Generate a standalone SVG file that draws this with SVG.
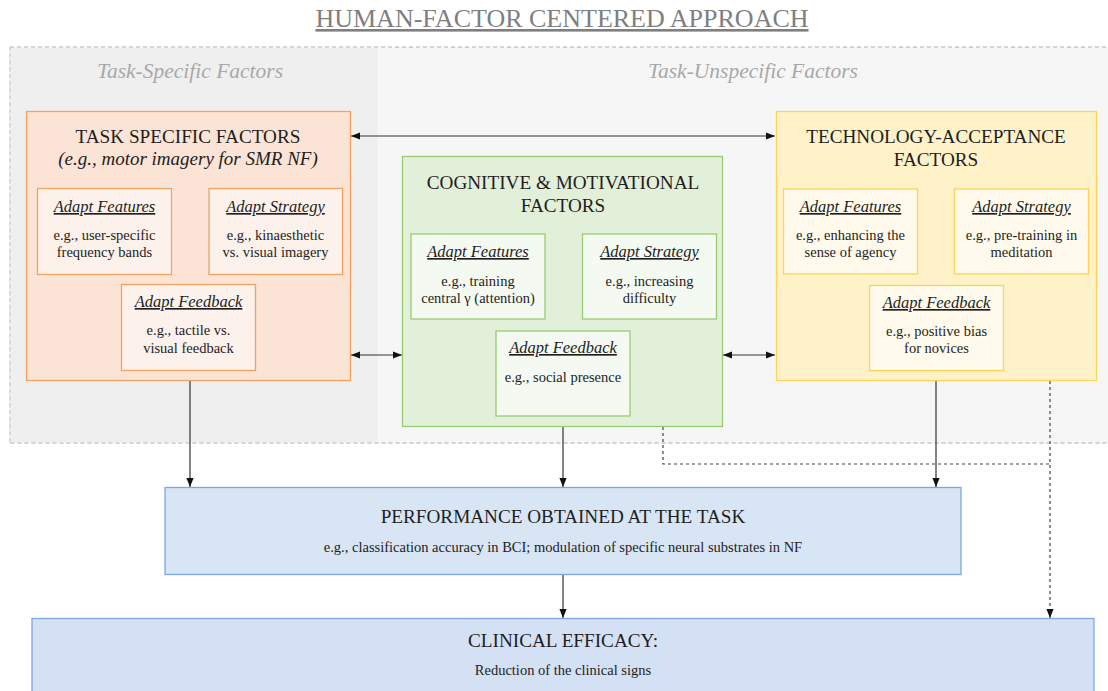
<svg xmlns="http://www.w3.org/2000/svg" width="1108" height="691" viewBox="0 0 1108 691">
<style>
text{font-family:"Liberation Serif","Times New Roman",serif;text-anchor:middle;fill:#1e1e1e}
.ttl{font-size:26px;fill:#7f7f7f;text-decoration:underline}
.reg{font-size:21.5px;font-style:italic;fill:#a8a8a8}
.hd{font-size:19.2px}
.hdi{font-size:19px;font-style:italic}
.st{font-size:16.5px;font-style:italic;text-decoration:underline}
.bd{font-size:14.5px}
.pb{font-size:14.5px}
.or{fill:#fbe4d5;stroke:#f4a261;stroke-width:1.3}
.ors{fill:#fcf1eb;stroke:#f4a261;stroke-width:1.3}
.gr{fill:#e2efd9;stroke:#97cc75;stroke-width:1.3}
.grs{fill:#f4f9f1;stroke:#97cc75;stroke-width:1.3}
.ye{fill:#fff1c8;stroke:#ffd45a;stroke-width:1.3}
.yes{fill:#fffaeb;stroke:#ffd45a;stroke-width:1.3}
.bl{fill:#d8e5f5;stroke:#7ea6e0;stroke-width:1.3}
.line{fill:none;stroke:#333;stroke-width:1.2}
.dash{fill:none;stroke:#444;stroke-width:1.2;stroke-dasharray:3,3}
</style>
<defs>
<marker id="ah" markerUnits="userSpaceOnUse" markerWidth="9" markerHeight="9" viewBox="0 0 10 10" refX="10" refY="5" orient="auto-start-reverse">
<path d="M0,1 L10,5 L0,9 z" fill="#111"/>
</marker>
</defs>
<rect width="1108" height="691" fill="#fff"/>
<g id="title"><text class="ttl" x="562" y="27">HUMAN-FACTOR CENTERED APPROACH</text></g>
<g id="regions">
<rect x="10" y="47" width="1110" height="396" fill="#f6f6f6" stroke="#c8c8c8" stroke-dasharray="4,3"/>
<rect x="10.5" y="47.5" width="367" height="395" fill="#efefef" stroke="none"/>
<path d="M10,47 V443" stroke="#c8c8c8" stroke-dasharray="4,3" fill="none"/>
<path d="M10,47 H1108 M10,443 H1108" stroke="#c8c8c8" stroke-dasharray="4,3" fill="none"/>
<text class="reg" x="190" y="78">Task-Specific Factors</text>
<text class="reg" x="753" y="78">Task-Unspecific Factors</text>
</g>
<g id="connectors">
<path class="line" d="M351,136 H775" marker-start="url(#ah)" marker-end="url(#ah)"/>
<path class="line" d="M351,355 H402" marker-start="url(#ah)" marker-end="url(#ah)"/>
<path class="line" d="M723,355 H775" marker-start="url(#ah)" marker-end="url(#ah)"/>
<path class="line" d="M190,381 V487" marker-end="url(#ah)"/>
<path class="line" d="M563,427 V487" marker-end="url(#ah)"/>
<path class="line" d="M936,381 V487" marker-end="url(#ah)"/>
<path class="dash" d="M663,427 V464 H1050"/>
<path class="dash" d="M1050,381 V618" marker-end="url(#ah)"/>
<path class="line" d="M563,575 V618" marker-end="url(#ah)"/>
</g>
<g id="task-specific">
<rect class="or" x="26.5" y="111.5" width="324" height="269"/>
<text class="hd" x="188" y="143">TASK SPECIFIC FACTORS</text>
<text class="hdi" x="188" y="165">(e.g., motor imagery for SMR NF)</text>
</g>
<g id="ts-features">
<rect class="ors" x="37.5" y="188.5" width="134" height="86"/>
<text class="st" x="104.5" y="212">Adapt Features</text>
<text class="bd" x="104.5" y="240">e.g., user-specific</text>
<text class="bd" x="104.5" y="257">frequency bands</text>
</g>
<g id="ts-strategy">
<rect class="ors" x="209" y="188.5" width="133.5" height="86"/>
<text class="st" x="275.5" y="212">Adapt Strategy</text>
<text class="bd" x="275.5" y="240">e.g., kinaesthetic</text>
<text class="bd" x="275.5" y="257">vs. visual imagery</text>
</g>
<g id="ts-feedback">
<rect class="ors" x="121.5" y="284.5" width="134" height="86"/>
<text class="st" x="188.5" y="307">Adapt Feedback</text>
<text class="bd" x="188.5" y="335">e.g., tactile vs.</text>
<text class="bd" x="188.5" y="353">visual feedback</text>
</g>
<g id="cognitive">
<rect class="gr" x="402.5" y="156.5" width="320" height="270"/>
<text class="hd" x="563" y="189">COGNITIVE &amp; MOTIVATIONAL</text>
<text class="hd" x="563" y="212">FACTORS</text>
</g>
<g id="cm-features">
<rect class="grs" x="411" y="234" width="134" height="85"/>
<text class="st" x="478" y="257">Adapt Features</text>
<text class="bd" x="478" y="286">e.g., training</text>
<text class="bd" x="478" y="303">central γ (attention)</text>
</g>
<g id="cm-strategy">
<rect class="grs" x="582.5" y="234" width="134" height="85"/>
<text class="st" x="649.5" y="257">Adapt Strategy</text>
<text class="bd" x="649.5" y="286">e.g., increasing</text>
<text class="bd" x="649.5" y="303">difficulty</text>
</g>
<g id="cm-feedback">
<rect class="grs" x="496" y="331" width="134" height="85"/>
<text class="st" x="563" y="353">Adapt Feedback</text>
<text class="bd" x="563" y="382">e.g., social presence</text>
</g>
<g id="technology">
<rect class="ye" x="776.5" y="111.5" width="320" height="269"/>
<text class="hd" x="936" y="143">TECHNOLOGY-ACCEPTANCE</text>
<text class="hd" x="936" y="166">FACTORS</text>
</g>
<g id="ta-features">
<rect class="yes" x="783.5" y="189" width="134" height="85"/>
<text class="st" x="850.5" y="212">Adapt Features</text>
<text class="bd" x="850.5" y="240">e.g., enhancing the</text>
<text class="bd" x="850.5" y="257">sense of agency</text>
</g>
<g id="ta-strategy">
<rect class="yes" x="954.5" y="189" width="134" height="85"/>
<text class="st" x="1021.5" y="212">Adapt Strategy</text>
<text class="bd" x="1021.5" y="240">e.g., pre-training in</text>
<text class="bd" x="1021.5" y="257">meditation</text>
</g>
<g id="ta-feedback">
<rect class="yes" x="869.5" y="285.5" width="134" height="85"/>
<text class="st" x="936.5" y="308">Adapt Feedback</text>
<text class="bd" x="936.5" y="336">e.g., positive bias</text>
<text class="bd" x="936.5" y="353">for novices</text>
</g>
<g id="performance">
<rect class="bl" x="165" y="487.5" width="796" height="87"/>
<text class="hd" x="563" y="523">PERFORMANCE OBTAINED AT THE TASK</text>
<text class="pb" x="563" y="552">e.g., classification accuracy in BCI; modulation of specific neural substrates in NF</text>
</g>
<g id="clinical">
<rect class="bl" x="32" y="618.5" width="1062" height="90" style="fill:#d4e0f3"/>
<text class="hd" x="563" y="647">CLINICAL EFFICACY:</text>
<text class="pb" x="563" y="675">Reduction of the clinical signs</text>
</g>
</svg>
